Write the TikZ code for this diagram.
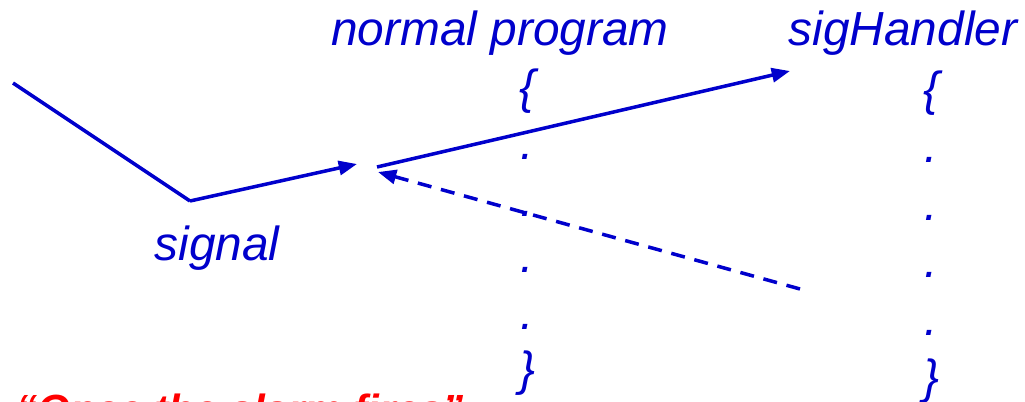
\documentclass[tikz,border=0pt]{standalone}
\usepackage{fontspec}
\setmainfont{Liberation Sans}
\usetikzlibrary{arrows.meta}
\definecolor{slideblue}{RGB}{0,0,204}
\definecolor{slidered}{RGB}{255,0,0}

\begin{document}
\begin{tikzpicture}[x=0.025cm,y=-0.025cm,>={Triangle[length=13pt,width=10pt]},
  lbl/.style={text=slideblue,font=\fontsize{34}{40}\selectfont\itshape,inner sep=0pt,anchor=base},
  flow/.style={draw=slideblue,line width=2.5pt},
  retflow/.style={flow,dash pattern=on 10pt off 7pt}]
\useasboundingbox (0,0) rectangle (1025,401);
% titles of the two code columns
\node[lbl] (mainname) at (500,45) {normal program};
\node[lbl] (hdlname) at (903,45) {sigHandler};
\node[lbl] (signame) at (217,260) {signal};
% the code columns
\node[lbl] (mainopen) at (527,103) {\{};
\node[lbl] (mainclose) at (527,385) {\}};
\node[lbl] (hdlopen) at (931,105) {\{};
\node[lbl] (hdlclose) at (931,393) {\}};
\foreach \k in {1,...,4}{
  \node[lbl] (maindot\k) at (527,{103+56.5*\k}) {.};
  \node[lbl] (hdldot\k) at (931,{105+57.5*\k}) {.};
}
% signal path
\coordinate (wire) at (13,83);
\coordinate (hit) at (190,201);
\coordinate (intr) at (357,164);
\coordinate (leave) at (377,167);
\coordinate (entry) at (790,71);
\coordinate (ret) at (800,289);
\coordinate (back) at (378,172);
\draw[flow] (wire) -- (hit);
\draw[flow,->] (hit) -- (intr);
\draw[flow,->] (leave) -- (entry);
\draw[retflow,->] (ret) -- (back);
\node[anchor=base west,text=slidered,font=\fontsize{30}{36}\selectfont\bfseries\itshape,inner sep=0pt] (remark) at (16,424) {“Once the alarm fires”};
\end{tikzpicture}
\end{document}
